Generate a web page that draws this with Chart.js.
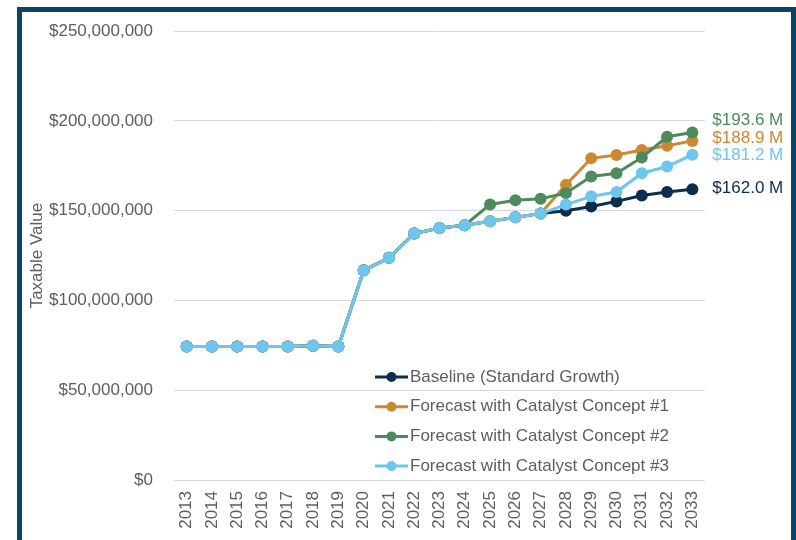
<!DOCTYPE html>
<html>
<head>
<meta charset="utf-8">
<script src="https://cdn.jsdelivr.net/npm/chart.js@4.4.0/dist/chart.umd.min.js"></script>
<style>
  html, body { margin: 0; padding: 0; background: #fff; }
  #wrap { position: relative; width: 796px; height: 540px; overflow: hidden; }
  #frame { position: absolute; left: 17px; top: 7px; width: 769px; height: 560px;
           border: 5px solid #0c4466; border-bottom: none; pointer-events: none; }
</style>
</head>
<body>
<div id="wrap">
  <canvas id="taxChart" width="796" height="540"></canvas>
  <div id="frame"></div>
</div>
<script>
// --- Data (values in millions of dollars) ---
const years = ['2013', '2014', '2015', '2016', '2017', '2018', '2019', '2020', '2021', '2022', '2023',
               '2024', '2025', '2026', '2027', '2028', '2029', '2030', '2031', '2032', '2033'];

const baseline = [74.3, 74.3, 74.3, 74.3, 74.3, 74.8, 74.3, 116.8, 123.8, 137.3, 140.4,
                  141.9, 144.1, 146.3, 148.4, 150.0, 152.4, 155.2, 158.5, 160.4, 162.0];
const concept1 = [74.3, 74.3, 74.3, 74.3, 74.3, 74.8, 74.3, 116.8, 123.8, 137.3, 140.4,
                  141.9, 144.1, 146.3, 148.4, 164.4, 179.2, 181.0, 183.8, 186.2, 188.9];
const concept2 = [74.3, 74.3, 74.3, 74.3, 74.3, 74.8, 74.3, 116.8, 123.8, 137.3, 140.4,
                  141.9, 153.5, 155.8, 156.7, 159.8, 169.1, 170.9, 179.6, 191.2, 193.6];
const concept3 = [74.3, 74.3, 74.3, 74.3, 74.3, 74.8, 74.3, 116.8, 123.8, 137.3, 140.4,
                  141.9, 144.1, 146.3, 148.4, 153.4, 158.0, 160.4, 170.9, 174.6, 181.2];

const seriesNames = ['Baseline (Standard Growth)', 'Forecast with Catalyst Concept #1',
                     'Forecast with Catalyst Concept #2', 'Forecast with Catalyst Concept #3'];
const yTicks = [0, 50, 100, 150, 200, 250];

const FONT = '"Liberation Sans", Arial, sans-serif';
const colors = ['#0b2d4e', '#c98a32', '#4d8a5e', '#6cc6ee'];
const textGray = '#5e5e5e';

// legend drawn inside the plot, lower middle
const insideLegend = {
    id: 'insideLegend',
    afterDraw(chart) {
        const { ctx, chartArea } = chart;
        ctx.save();
        ctx.font = '17px ' + FONT;
        ctx.textBaseline = 'middle';
        ctx.textAlign = 'left';
        chart.data.datasets.forEach((ds, i) => {
            const x = chartArea.left + 201;
            const y = chartArea.bottom - 103 + i * 29.7;
            ctx.strokeStyle = ds.borderColor;
            ctx.lineWidth = 3;
            ctx.beginPath();
            ctx.moveTo(x, y);
            ctx.lineTo(x + 33, y);
            ctx.stroke();
            ctx.fillStyle = ds.borderColor;
            ctx.beginPath();
            ctx.arc(x + 16.5, y, 5, 0, Math.PI * 2);
            ctx.fill();
            ctx.fillStyle = textGray;
            ctx.fillText(ds.label, x + 35, y);
        });
        ctx.restore();
    }
};

// value labels next to the last point of each series
const endLabels = {
    id: 'endLabels',
    afterDatasetsDraw(chart) {
        const { ctx } = chart;
        const nudge = [-1, -3, -12, 1];
        ctx.save();
        ctx.font = '17px ' + FONT;
        ctx.textBaseline = 'middle';
        ctx.textAlign = 'left';
        chart.data.datasets.forEach((ds, i) => {
            const meta = chart.getDatasetMeta(i);
            const pt = meta.data[meta.data.length - 1];
            const v = ds.data[ds.data.length - 1];
            ctx.fillStyle = ds.borderColor;
            ctx.fillText('$' + v.toFixed(1) + ' M', pt.x + 20, pt.y + nudge[i]);
        });
        ctx.restore();
    }
};

const allSeries = [baseline, concept1, concept2, concept3];

new Chart(document.getElementById('taxChart'), {
    type: 'line',
    data: {
        labels: years,
        datasets: allSeries.map((values, i) => ({
            label: seriesNames[i],
            data: values,
            borderColor: colors[i],
            backgroundColor: colors[i],
            borderWidth: 3,
            pointRadius: 6,
            pointBorderWidth: 0,
            pointBackgroundColor: colors[i],
            tension: 0,
            order: 4 - i
        }))
    },
    options: {
        responsive: false,
        animation: false,
        layout: { padding: { top: 29, right: 91, left: 0, bottom: 0 } },
        plugins: {
            legend: { display: false },
            tooltip: { enabled: false }
        },
        scales: {
            x: {
                offset: true,
                grid: { display: false },
                border: { display: false },
                ticks: {
                    autoSkip: false,
                    minRotation: 90,
                    maxRotation: 90,
                    padding: 3,
                    color: textGray,
                    font: { family: FONT, size: 17 }
                },
                afterFit(scale) { scale.height = 60; }
            },
            y: {
                min: 0,
                max: 250,
                afterBuildTicks(scale) { scale.ticks = yTicks.map(v => ({ value: v })); },
                grid: { color: '#d9d9d9', lineWidth: 1, drawTicks: false },
                border: { display: false },
                ticks: {
                    padding: 21,
                    color: textGray,
                    font: { family: FONT, size: 17 },
                    callback: v => '$' + (v * 1e6).toLocaleString('en-US')
                },
                title: {
                    display: true,
                    text: 'Taxable Value',
                    color: textGray,
                    font: { family: FONT, size: 17 },
                    padding: { top: 27, bottom: 0 }
                },
                afterFit(scale) { scale.width = 174; }
            }
        }
    },
    plugins: [insideLegend, endLabels]
});
</script>
</body>
</html>
